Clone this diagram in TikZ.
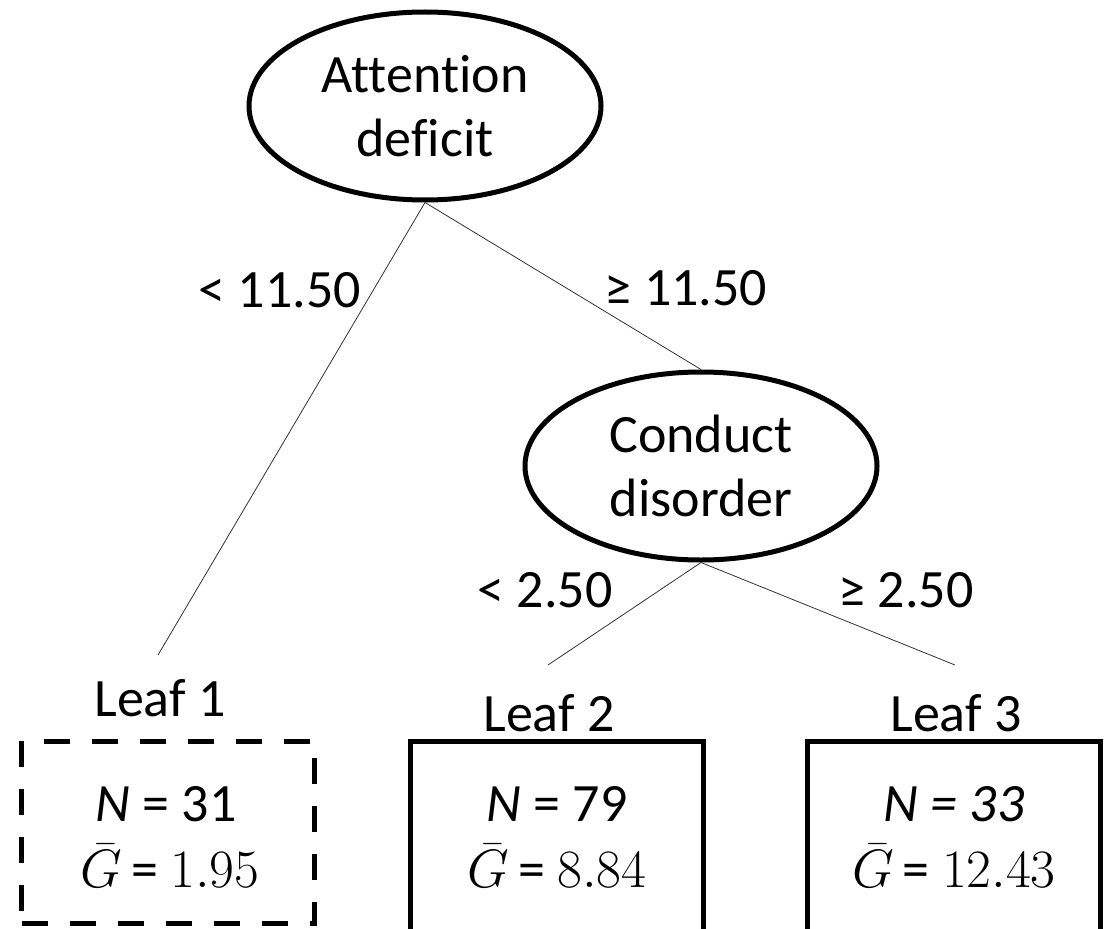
\RequirePackage{fix-cm}
\documentclass[tikz,border=0pt]{standalone}
\usepackage{amsmath, amssymb}
\usepackage{fontspec}
\setmainfont[Ligatures=NoCommon]{Carlito}
\usepackage{tikz}
\usetikzlibrary{shapes.geometric, positioning}
\tikzstyle{split}=[ellipse, draw, line width=5pt, minimum width=352pt, minimum height=188pt, inner sep=0pt, align=center]
\tikzstyle{leaf}=[rectangle, draw, line width=5pt, minimum width=293pt, minimum height=182pt, inner sep=0pt]
\tikzstyle{leafopen}=[leaf, minimum height=210pt]
\tikzstyle{stats}=[align=center, inner sep=0pt]
\tikzstyle{branch}=[draw=black!80, line width=0.8pt]
\newcommand{\bigtext}{\fontsize{54}{64}\selectfont}

\begin{document}
\begin{tikzpicture}[x=1pt, y=-1pt, every node/.style={font=\bigtext}]
    \clip (0,0) rectangle (1107,928);
    \fill[white] (0,0) rectangle (1107,928);

    % splits
    \node[split] (att) at (425,106) {Attention\\deficit};
    \node[split] (con) at (701,466) {Conduct\\disorder};

    % leaves
    \node[leaf, dash pattern=on 26pt off 22pt] (l1) at (168,832) {};
    \node[leafopen] (l2) at (557,846) {};
    \node[leafopen] (l3) at (954,846) {};

    \node[stats] (n1) at (166,804) {\textit{N} = 31};
    \node[stats] (n2) at (557,804) {\textit{N} = 79};
    \node[stats] (n3) at (954,804) {\textit{N = 33}};
    \node[stats] (g1) at (170,866) {$\bar{G}\,$= $1.95$};
    \node[stats] (g2) at (557,866) {$\bar{G}\,$= $8.84$};
    \node[stats] (g3) at (954,866) {$\bar{G}\,$= $12.43$};

    \node (t1) at (160,698) {Leaf 1};
    \node (t2) at (549,713) {Leaf 2};
    \node (t3) at (956,713) {Leaf 3};

    % free ends of the branches
    \coordinate (e1) at (158,655);
    \coordinate (e2) at (548,665);
    \coordinate (e3) at (955,665);

    \path[branch]
      (att.south) edge (e1)
      (att.south) edge (con.north)
      (con.south) edge (e2)
      (con.south) edge (e3);

    \node (c1) at (280,290) {< 11.50};
    \node (c2) at (686,288) {≥ 11.50};
    \node (c3) at (545,590) {< 2.50};
    \node (c4) at (906,590) {≥ 2.50};
  \end{tikzpicture}
\end{document}
